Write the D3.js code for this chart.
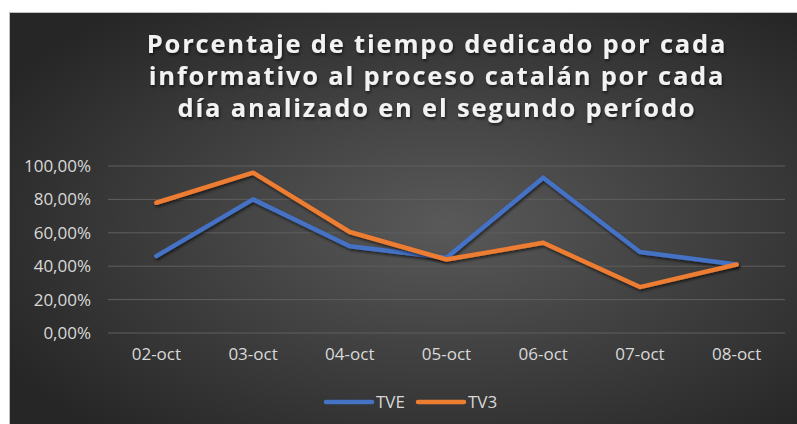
<!DOCTYPE html>
<html>
<head>
<meta charset="utf-8">
<script src="https://cdn.jsdelivr.net/npm/d3@7"></script>
<style>
  body { margin: 0; background: #fff; }
  svg { display: block; }
</style>
</head>
<body>
<div id="app"></div>
<script>
const days = ["02-oct", "03-oct", "04-oct", "05-oct", "06-oct", "07-oct", "08-oct"];
const tve = [46, 80, 52, 45, 93, 48.5, 41];
const tv3 = [78, 96, 60.5, 44, 54, 27.5, 41];
const yTicks = [0, 20, 40, 60, 80, 100];
const titleLines = [
  "Porcentaje de tiempo dedicado por cada",
  "informativo al proceso catalán por cada",
  "día analizado en el segundo período"
];
const series = [
  { name: "TVE", values: tve, color: "#4472C4" },
  { name: "TV3", values: tv3, color: "#ED7D31" }
];

const W = 797, H = 424;
const svg = d3.select("#app").append("svg").attr("width", W).attr("height", H);

const defs = svg.append("defs");
const grad = defs.append("radialGradient").attr("id", "bg")
  .attr("cx", "55%").attr("cy", "50%").attr("r", "65%");
grad.append("stop").attr("offset", "0%").attr("stop-color", "#595959");
grad.append("stop").attr("offset", "100%").attr("stop-color", "#262626");

const shadow = defs.append("filter").attr("id", "shadow")
  .attr("x", "-10%").attr("y", "-10%").attr("width", "120%").attr("height", "130%");
shadow.append("feDropShadow").attr("dx", 1).attr("dy", 2).attr("stdDeviation", 1.5)
  .attr("flood-color", "#000").attr("flood-opacity", 0.6);

//background
svg.append("rect").attr("x", 9.5).attr("y", 12.5).attr("width", W).attr("height", H)
  .attr("fill", "url(#bg)").attr("stroke", "#bfbfbf").attr("stroke-width", 1);

//title
svg.append("g").selectAll("text").data(titleLines).enter().append("text")
  .attr("x", 437).attr("y", (d, i) => 53 + i * 32)
  .attr("text-anchor", "middle")
  .attr("fill", "#f2f2f2")
  .style("font-family", "'Open Sans', sans-serif")
  .style("font-weight", "bold")
  .style("font-size", "25.5px")
  .style("letter-spacing", "1.8px")
  .attr("filter", "url(#shadow)")
  .text(d => d);

//scales
const x = d3.scaleBand().domain(days).range([108, 785]);
const y = d3.scaleLinear().domain([0, 100]).range([333, 166]);

const labelFont = sel => sel.attr("fill", "#d9d9d9")
  .style("font-family", "'Open Sans', sans-serif").style("font-size", "17px");

//gridlines
svg.append("g").selectAll("line").data(yTicks).enter().append("line")
  .attr("x1", 108).attr("x2", 785)
  .attr("y1", d => y(d)).attr("y2", d => y(d))
  .attr("stroke", "#5e5e5e").attr("stroke-width", 1);

//y axis
const yAxis = d3.axisLeft(y).tickValues(yTicks).tickSize(0).tickPadding(0)
  .tickFormat(d => d3.format(".2f")(d).replace(".", ",") + "%");
const gy = svg.append("g").attr("transform", "translate(91,0)").call(yAxis);
gy.select(".domain").remove();
gy.selectAll("text").call(labelFont);

//x axis
const xAxis = d3.axisBottom(x).tickSize(0).tickPadding(0);
const gx = svg.append("g").attr("transform", "translate(0,348)").call(xAxis);
gx.select(".domain").remove();
gx.selectAll("text").call(labelFont);

//lines
const line = d3.line()
  .x((d, i) => x(days[i]) + x.bandwidth() / 2)
  .y(d => y(d));

svg.append("g").selectAll("path").data(series).enter().append("path")
  .attr("d", d => line(d.values))
  .attr("fill", "none")
  .attr("stroke", d => d.color)
  .attr("stroke-width", 4.5)
  .attr("stroke-linecap", "round")
  .attr("stroke-linejoin", "round")
  .attr("filter", "url(#shadow)");

//legend
const legend = svg.append("g");
const lg = legend.selectAll("g").data(series).enter().append("g")
  .attr("transform", (d, i) => `translate(${326 + i * 92},402)`);
lg.append("line").attr("x1", 0).attr("x2", 46).attr("y1", 0).attr("y2", 0)
  .attr("stroke", d => d.color).attr("stroke-width", 4.5).attr("stroke-linecap", "round");
lg.append("text").attr("x", 50).attr("y", 6)
  .call(labelFont)
  .text(d => d.name);
</script>
</body>
</html>
